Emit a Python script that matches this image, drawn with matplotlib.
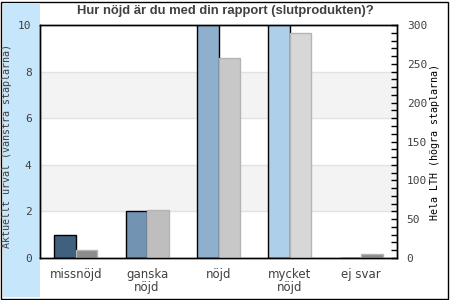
import matplotlib.pyplot as plt
from matplotlib.patches import Rectangle
from matplotlib.ticker import MultipleLocator

categories = ["missnöjd", "ganska\nnöjd", "nöjd", "mycket\nnöjd", "ej svar"]
urval = [1, 2, 11, 12, 0]          # left axis (Aktuellt urval)
hela_lth = [10, 62, 257, 290, 5]    # right axis (Hela LTH)

left_colors = ["#40607f", "#7393b2", "#8fb0cc", "#aecfe9", "#c8e8fc"]
right_colors = ["#8c8c8c", "#bebebe", "#c8c8c8", "#d7d7d7", "#8c8c8c"]
text_col = "#404040"

W, H = 450, 300
fig = plt.figure(figsize=(4.5, 3), dpi=100)

# background: outer border and light blue band
fig.patches.append(Rectangle((1 / W, 1 / H), 447 / W, 297 / H, transform=fig.transFigure,
                             fill=False, edgecolor="black", lw=1, zorder=-2))
fig.patches.append(Rectangle((3 / W, 3 / H), 37 / W, 294 / H, transform=fig.transFigure,
                             facecolor="#c6e6fc", edgecolor="none", zorder=-1))

ax = fig.add_axes([40 / W, 1 - 258 / H, 357 / W, 233 / H])
ax2 = ax.twinx()

x = list(range(len(categories)))
w = 0.3

# alternating bands and grid lines
for lo in (2, 6):
    ax.axhspan(lo, lo + 2, color="#f3f3f3", zorder=0, lw=0)
for y in (2, 4, 6, 8):
    ax.axhline(y, color="#e2e2e2", lw=1, zorder=0.5)

ax.bar([i - w / 2 for i in x], urval, width=w, color=left_colors,
       edgecolor="black", linewidth=1, zorder=2)
ax2.bar([i + w / 2 for i in x], hela_lth, width=w, color=right_colors,
        edgecolor="#b4b4b4", linewidth=1, zorder=2)

ax.set_xlim(-0.5, 4.5)
ax.set_ylim(0, 10)
ax.set_yticks([0, 2, 4, 6, 8, 10])
ax2.set_ylim(0, 300)
ax2.set_yticks(range(0, 301, 50))
ax2.yaxis.set_minor_locator(MultipleLocator(10))

ax.set_xticks(x)
ax.set_xticklabels(categories, color=text_col, fontsize=8.5, linespacing=1.0)
ax.tick_params(axis="x", length=0, pad=7)
ax.tick_params(axis="y", length=0, pad=6, labelcolor=text_col)
ax2.tick_params(axis="y", which="both", direction="in", length=4, width=1,
                pad=7, labelcolor=text_col)
for lab in ax.get_yticklabels() + ax2.get_yticklabels():
    lab.set_family("DejaVu Sans Mono")
    lab.set_fontsize(8)

for sp in ax.spines.values():
    sp.set_linewidth(1)
for sp in ax2.spines.values():
    sp.set_linewidth(1)

fig.text(7 / W, 1 - 146.5 / H, "Aktuellt urval (vänstra staplarna)", rotation=90,
         ha="center", va="center", family="DejaVu Sans Mono", fontsize=7.2, color=text_col)
fig.text(435 / W, 1 - 141.5 / H, "Hela LTH (högra staplarna)", rotation=90,
         ha="center", va="center", family="DejaVu Sans Mono", fontsize=7.2, color="black")

fig.text(0.5, 1 - 11 / H, "Hur nöjd är du med din rapport (slutprodukten)?",
         ha="center", va="center", family=["Liberation Sans", "DejaVu Sans"],
         fontweight="bold", fontsize=9.4, color=text_col)

fig.savefig("out.png", dpi=100)
